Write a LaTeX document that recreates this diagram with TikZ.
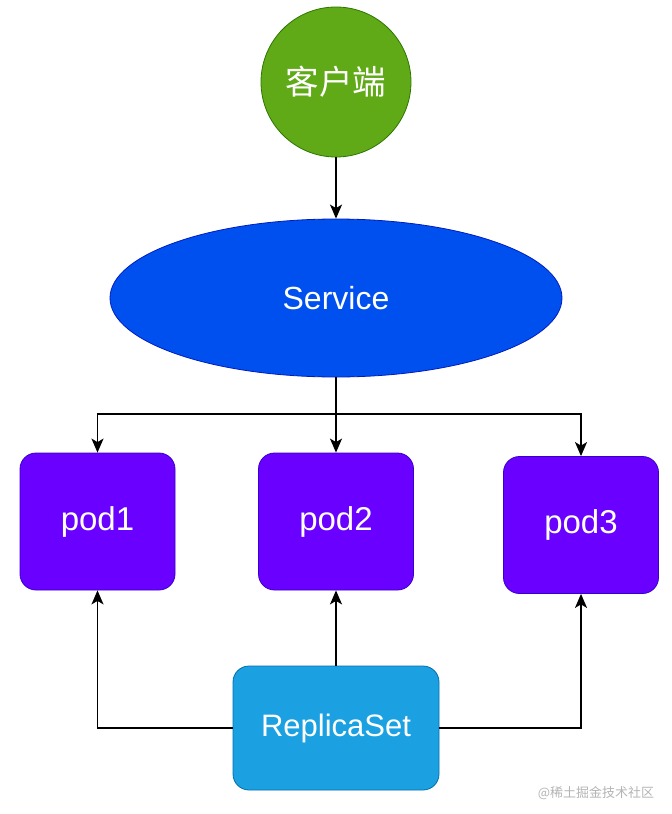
\documentclass[tikz,border=0pt]{standalone}
\usepackage{fontspec}
\setmainfont{Liberation Sans}
\newfontfamily\cjk{Noto Sans CJK SC}
\usetikzlibrary{shapes.geometric,arrows.meta}
\definecolor{cgreen}{HTML}{60A917}
\definecolor{cgreenS}{HTML}{2D7600}
\definecolor{cblue}{HTML}{0050EF}
\definecolor{cblueS}{HTML}{001DBC}
\definecolor{cpurple}{HTML}{6A00FF}
\definecolor{cpurpleS}{HTML}{3700CC}
\definecolor{csky}{HTML}{1BA1E2}
\definecolor{cskyS}{HTML}{006EAF}
\definecolor{wm}{HTML}{B4B4B4}
\tikzset{
  podbox/.style={rectangle, rounded corners=16pt, fill=cpurple, draw=cpurpleS, line width=0.8pt,
    minimum width=155pt, minimum height=137pt, inner sep=0pt, text=white,
    font=\fontsize{33}{38}\selectfont},
  conn/.style={line width=1.4pt, black},
  arr/.style={conn, -{Stealth[length=14pt,width=12pt,inset=3.5pt]}}
}
\begin{document}
\begin{tikzpicture}[x=1pt,y=-1pt]
\useasboundingbox (0,0) rectangle (672,814);
\node[circle, fill=cgreen, draw=cgreenS, line width=0.8pt, minimum size=150pt, inner sep=0pt,
  text=white, font=\cjk\fontsize{33.5}{38}\selectfont] (client) at (336,82) {客户端};
\node[ellipse, fill=cblue, draw=cblueS, line width=0.8pt, minimum width=452pt, minimum height=158pt,
  inner sep=0pt, text=white, font=\fontsize{32}{38}\selectfont] (svc) at (336,298) {Service};
\node[podbox] (pod1) at (97.5,521.5) {pod1};
\node[podbox] (pod2) at (336,521.5) {pod2};
\node[podbox] (pod3) at (581,525) {pod3};
\node[rectangle, rounded corners=16pt, fill=csky, draw=cskyS, line width=0.8pt,
  minimum width=206pt, minimum height=124pt, inner sep=0pt, text=white,
  font=\fontsize{31}{36}\selectfont] (rs) at (336,728) {ReplicaSet};
\coordinate (j) at (336,414);
\draw[arr] (client) -- (svc);
\draw[conn] (svc.south) -- (j);
\draw[arr] (j) -| (pod1.north);
\draw[arr] (j) -- (pod2.north);
\draw[arr] (j) -| (pod3.north);
\draw[arr] (rs.west) -| (pod1.south);
\draw[arr] (rs.north) -- (pod2.south);
\draw[arr] (rs.east) -| (pod3.south);
\node[text=wm, font=\cjk\fontsize{13}{15}\selectfont, inner sep=0pt] (wmk) at (596,793) {@稀土掘金技术社区};
\end{tikzpicture}
\end{document}
